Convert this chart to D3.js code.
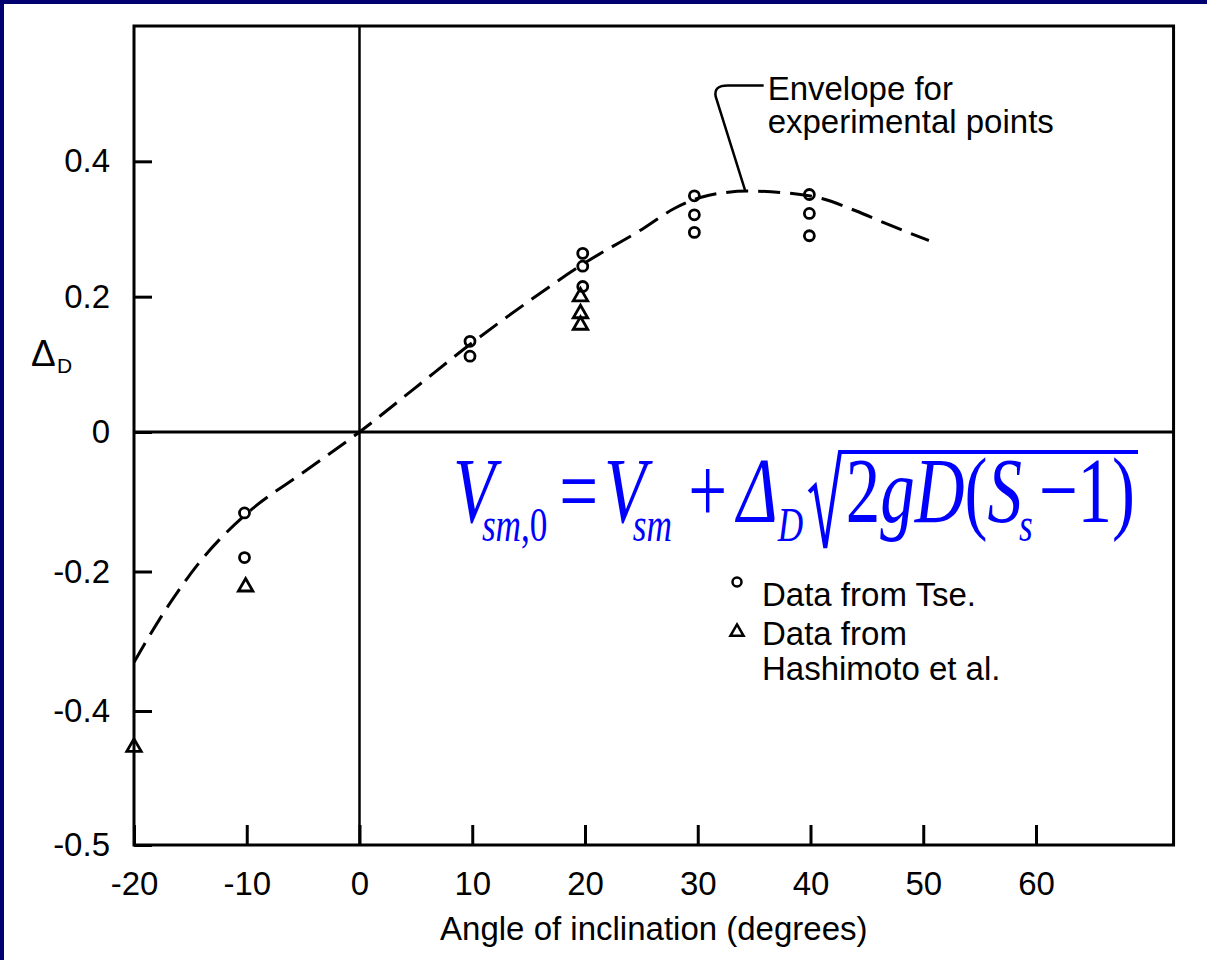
<!DOCTYPE html>
<html>
<head>
<meta charset="utf-8">
<script src="https://cdn.jsdelivr.net/npm/d3@7"></script>
<style>
  body { margin: 0; background: #fff; }
  svg { display: block; }
  .tick text { font-family: "Liberation Sans", Arial, sans-serif; font-size: 33px; fill: #000; }
  .tick line { stroke: #000; stroke-width: 3; }
  .lbl { font-family: "Liberation Sans", Arial, sans-serif; font-size: 33px; fill: #000; }
  .eq { font-family: "Liberation Serif", "Times New Roman", serif; fill: #0000ff; }
</style>
</head>
<body>
<svg id="chart" width="1207" height="960"></svg>
<script>
// tick values
const xTicks = [-20, -10, 0, 10, 20, 30, 40, 50, 60];
const yTicks = [-0.5, -0.4, -0.2, 0, 0.2, 0.4];

// data from Tse (circles)
const tseX = [-10.2, -10.2, 9.8, 9.8, 19.8, 19.8, 19.8, 29.7, 29.7, 29.7, 39.9, 39.9, 39.9];
const tseY = [-0.116, -0.18, 0.134, 0.112, 0.264, 0.245, 0.215, 0.349, 0.321, 0.295, 0.351, 0.323, 0.29];

// data from Hashimoto et al. (triangles)
const hashX = [-20, -10.1, 19.6, 19.6, 19.6];
const hashY = [-0.427, -0.222, 0.2, 0.175, 0.158];

// envelope for experimental points (dashed)
const envX = [-20, -17, -14, -10, -5, 0, 5, 10, 15, 20, 25, 28, 31, 34.5, 38, 41, 44, 47, 50.5];
const envY = [-0.33, -0.25, -0.183, -0.117, -0.058, 0, 0.066, 0.132, 0.193, 0.25, 0.299, 0.331, 0.35, 0.356, 0.353, 0.345, 0.327, 0.306, 0.283];

const svg = d3.select('#chart');

svg.append('rect').attr('width', 1207).attr('height', 960).attr('fill', '#fff');
// navy strips of the slide
svg.append('rect').attr('width', 1207).attr('height', 4).attr('fill', '#000070');
svg.append('rect').attr('width', 4).attr('height', 960).attr('fill', '#000070');

const xMax = 72.2;
const x = d3.scaleLinear().domain([-20, 60]).range([134, 1036]);
// the printed axis is broken below -0.4, so the scale is piecewise
const y = d3.scaleLinear().domain([-0.5, -0.4, 0, 0.6]).range([845, 711, 432, 26]);

// frame
svg.append('rect')
  .attr('x', x(-20))
  .attr('y', y(0.6))
  .attr('width', x(xMax) - x(-20))
  .attr('height', y(-0.5) - y(0.6))
  .attr('fill', 'none')
  .attr('stroke', '#000')
  .attr('stroke-width', 3);

// zero lines
svg.append('line')
  .attr('x1', x(0)).attr('x2', x(0))
  .attr('y1', y(0.6)).attr('y2', y(-0.5))
  .attr('stroke', '#000').attr('stroke-width', 2.5);

svg.append('line')
  .attr('x1', x(-20)).attr('x2', x(xMax))
  .attr('y1', y(0)).attr('y2', y(0))
  .attr('stroke', '#000').attr('stroke-width', 3);

// axes, ticks pointing inwards
svg.append('g')
  .attr('transform', `translate(0, ${y(-0.5)})`)
  .call(d3.axisBottom(x)
    .tickValues(xTicks)
    .tickSize(-20)
    .tickSizeOuter(0)
    .tickPadding(27)
    .tickFormat(d => String(d)))
  .call(g => g.select('.domain').remove());

svg.append('g')
  .attr('transform', `translate(${x(-20)}, 0)`)
  .call(d3.axisLeft(y)
    .tickValues(yTicks)
    .tickSize(-18)
    .tickSizeOuter(0)
    .tickPadding(24)
    .tickFormat(d => String(d)))
  .call(g => g.select('.domain').remove());

// envelope
const env = envX.map((d, i) => [d, envY[i]]);
svg.append('path')
  .datum(env)
  .attr('fill', 'none')
  .attr('stroke', '#000')
  .attr('stroke-width', 3)
  .attr('stroke-dasharray', '22 10')
  .attr('d', d3.line().x(d => x(d[0])).y(d => y(d[1])).curve(d3.curveMonotoneX));

// points
svg.append('g').selectAll('circle')
  .data(tseX.map((d, i) => [d, tseY[i]]))
  .enter()
  .append('circle')
  .attr('cx', d => x(d[0]))
  .attr('cy', d => y(d[1]))
  .attr('r', 5)
  .attr('fill', 'none')
  .attr('stroke', '#000')
  .attr('stroke-width', 2.8);

const tri = d3.symbol(d3.symbolTriangle, 90);
svg.append('g').selectAll('path')
  .data(hashX.map((d, i) => [d, hashY[i]]))
  .enter()
  .append('path')
  .attr('transform', d => `translate(${x(d[0])}, ${y(d[1])})`)
  .attr('d', tri)
  .attr('fill', 'none')
  .attr('stroke', '#000')
  .attr('stroke-width', 2.8);

// axis labels
svg.append('text')
  .attr('class', 'lbl')
  .attr('x', (x(-20) + x(xMax)) / 2)
  .attr('y', 940)
  .attr('text-anchor', 'middle')
  .text('Angle of inclination (degrees)');

svg.append('text').attr('class', 'lbl').attr('x', 31).attr('y', 366).style('font-size', '37px').text('Δ');
svg.append('text').attr('class', 'lbl').attr('x', 57).attr('y', 373).style('font-size', '21px').text('D');

// annotation
const ax = x(36.2), ay = y(0.49);
svg.append('text').attr('class', 'lbl').attr('x', ax).attr('y', ay).text('Envelope for');
svg.append('text').attr('class', 'lbl').attr('x', ax).attr('y', ay + 33).text('experimental points');
svg.append('path')
  .attr('d', `M${ax - 4},${ay - 15} L${ax - 40},${ay - 15} Q${ax - 54},${ay - 15} ${ax - 52},${ay - 4} L${x(34.2)},${y(0.357)}`)
  .attr('fill', 'none')
  .attr('stroke', '#000')
  .attr('stroke-width', 2.5);

// legend
const legend = svg.append('g').attr('transform', 'translate(737, 582)');
legend.append('circle').attr('r', 4.5).attr('fill', 'none').attr('stroke', '#000').attr('stroke-width', 2.5);
legend.append('text').attr('class', 'lbl').attr('x', 25).attr('y', 24).text('Data from Tse.');
legend.append('path').attr('transform', 'translate(0, 50)').attr('d', d3.symbol(d3.symbolTriangle, 75))
  .attr('fill', 'none').attr('stroke', '#000').attr('stroke-width', 2.5);
legend.append('text').attr('class', 'lbl').attr('x', 25).attr('y', 63).text('Data from');
legend.append('text').attr('class', 'lbl').attr('x', 25).attr('y', 98).text('Hashimoto et al.');

// formula
const F = 94, S = 48, fx = 453, fy = 522, fEnd = 1138;
const eq = svg.append('g').attr('class', 'eq');

function eqText(x0, parts) {
  const t = eq.append('text').attr('x', x0).attr('y', fy);
  parts.forEach(p => {
    t.append('tspan')
      .attr('font-size', p.s || F)
      .attr('font-style', p.i ? 'italic' : 'normal')
      .attr('dx', p.dx || 0)
      .attr('dy', p.dy || 0)
      .text(p.t);
  });
  return t;
}

const leftEq = eqText(fx, [
  {t: 'V', i: 1},
  {t: 'sm', i: 1, s: S, dx: -18, dy: 19},
  {t: ',0', s: S},
  {t: '=', dy: -19, dx: 16},
  {t: 'V', i: 1, dx: 8},
  {t: 'sm', i: 1, s: S, dx: -18, dy: 19},
  {t: '+', dy: -19, dx: 22},
  {t: 'Δ', i: 1, dx: 14},
  {t: 'D', i: 1, s: S, dy: 19, dx: 0}
]);
const lb = leftEq.node().getBBox();
const rx = lb.x + lb.width + 8;

const rightEq = eqText(rx + 50, [
  {t: '2'},
  {t: 'gD', i: 1},
  {t: '('},
  {t: 'S', i: 1},
  {t: 's', i: 1, s: S, dx: -4, dy: 19},
  {t: '−1)', dx: 8, dy: -19}
]);
const rb = rightEq.node().getBBox();
const end = rb.x + rb.width + 4;

eq.append('path')
  .attr('d', `M${rx},${fy - 30} L${rx + 8},${fy - 36} L${rx + 22},${fy + 26} L${rx + 42},${fy - 70} L${end},${fy - 70}`)
  .attr('fill', 'none')
  .attr('stroke', '#0000ff')
  .attr('stroke-width', 4)
  .attr('vector-effect', 'non-scaling-stroke');

const s = (fEnd - fx) / (end - fx);
eq.attr('transform', `translate(${fx * (1 - s)}, 0) scale(${s}, 1)`);
</script>
</body>
</html>
